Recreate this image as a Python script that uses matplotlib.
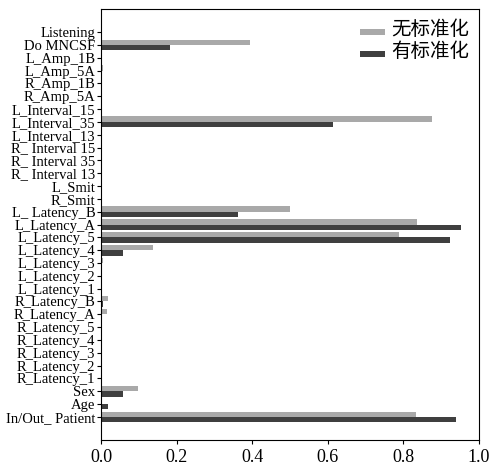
import matplotlib
matplotlib.use("Agg")
import matplotlib.pyplot as plt
import numpy as np

categories = ["In/Out_ Patient", "Age", "Sex", "R_Latency_1", "R_Latency_2", "R_Latency_3",
              "R_Latency_4", "R_Latency_5", "R_Latency_A", "R_Latency_B",
              "L_Latency_1", "L_Latency_2", "L_Latency_3", "L_Latency_4", "L_Latency_5",
              "L_Latency_A", "L_ Latency_B", "R_Smit", "L_Smit", "R_ Interval 13",
              "R_ Interval 35", "R_ Interval 15", "L_Interval_13", "L_Interval_35",
              "L_Interval_15", "R_Amp_5A", "R_Amp_1B", "L_Amp_5A", "L_Amp_1B",
              "Do MNCSF", "Listening"]
no_std = [0.833, 0.002, 0.097, 0, 0, 0, 0, 0, 0.015, 0.018,
          0, 0, 0.005, 0.138, 0.789, 0.836, 0.50, 0, 0, 0,
          0, 0, 0, 0.875, 0, 0, 0, 0.005, 0, 0.394, 0]
with_std = [0.938, 0.018, 0.058, 0, 0, 0, 0, 0, 0.003, 0.005,
            0, 0, 0, 0.058, 0.923, 0.952, 0.363, 0, 0, 0,
            0, 0, 0, 0.614, 0, 0, 0, 0, 0, 0.183, 0]
legend_labels = ["无标准化", "有标准化"]

fig = plt.figure(figsize=(5.0, 4.65), dpi=100)
ax = fig.add_axes([101/500, 1 - 440/465, 378/500, 431/465])

y = np.arange(len(categories))
h = 0.42
ax.barh(y + h/2, no_std, height=h, color="#a9a9a9", label=legend_labels[0])
ax.barh(y - h/2, with_std, height=h, color="#3f3f3f", label=legend_labels[1])

ax.set_yticks(y)
ax.set_yticklabels(categories, fontsize=10.5, family="Liberation Serif")
ax.set_ylim(-1.8, len(categories) - 1 + 1.8)
ax.set_xlim(0, 1.0)
ax.set_xticks([0, 0.2, 0.4, 0.6, 0.8, 1.0])
ax.set_xticklabels(["0.0", "0.2", "0.4", "0.6", "0.8", "1.0"], fontsize=13, family="Liberation Serif")
ax.tick_params(axis="y", length=3, pad=1)
ax.tick_params(axis="x", length=3)

leg = ax.legend(loc="upper right", frameon=False, handlelength=1.3, handletextpad=0.3,
                labelspacing=0.05, borderaxespad=0.1, bbox_to_anchor=(1.0, 1.0),
                prop={"family": ["Noto Sans CJK SC", "DejaVu Sans"], "size": 14})
for hd in leg.legend_handles:
    hd.set_height(4)

fig.savefig("out.png", dpi=100)
